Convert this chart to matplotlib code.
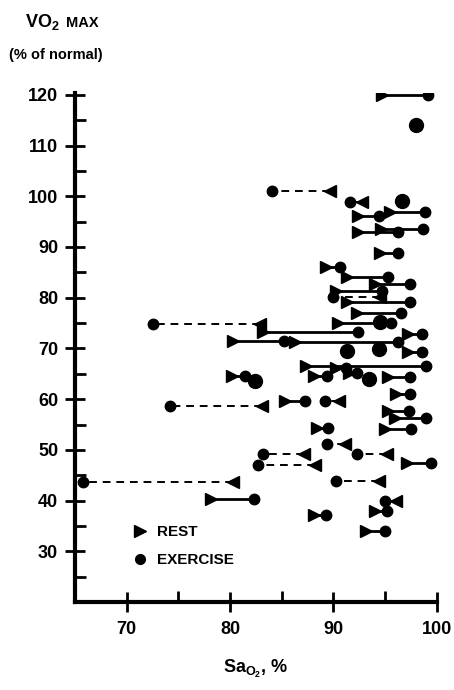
import numpy as np
import matplotlib
matplotlib.use("Agg")
import matplotlib.pyplot as plt
from matplotlib.lines import Line2D
from matplotlib.ticker import MultipleLocator

# one entry per subject: SaO2 at rest, SaO2 at exercise, VO2 max (% of normal)
rest_sao2 = [94.7, 89.7, 92.8, 95.5, 92.4, 92.4, 94.6, 94.5, 89.3, 91.3, 94.0, 90.3,
             94.5, 91.3, 92.3, 90.4, 82.9, 83.2, 97.2, 80.3, 86.3, 97.2, 87.4, 90.3,
             91.5, 88.1, 95.3, 80.2, 96.1, 85.3, 90.5, 83.1, 95.3, 96.0, 95.0, 88.4,
             91.1, 87.2, 95.2, 88.2, 97.1, 80.3, 94.4, 78.2, 96.1, 94.0, 88.1, 93.2]
exercise_sao2 = [99.2, 84.1, 91.6, 98.9, 94.4, 96.3, 98.7, 96.3, 90.6, 95.3, 97.4, 94.7,
                 90.0, 97.4, 96.5, 95.6, 72.6, 92.4, 98.6, 85.2, 96.3, 98.6, 99.0, 91.2,
                 92.3, 89.4, 97.4, 81.5, 97.4, 87.3, 89.2, 74.2, 97.3, 99.0, 97.5, 89.5,
                 89.4, 83.2, 92.3, 82.7, 99.4, 65.8, 90.3, 82.3, 95.0, 95.2, 89.3, 95.0]
vo2_max = [120.0, 101.0, 98.8, 96.9, 96.2, 93.0, 93.6, 88.8, 86.0, 84.0, 82.7, 81.3,
           80.1, 79.1, 76.9, 75.1, 74.8, 73.2, 72.9, 71.5, 71.2, 69.2, 66.6, 66.1,
           65.2, 64.6, 64.3, 64.6, 61.0, 59.6, 59.6, 58.7, 57.6, 56.2, 54.1, 54.4,
           51.1, 49.2, 49.2, 47.1, 47.5, 43.6, 43.8, 40.3, 39.9, 37.9, 37.1, 34.0]

# overlapping exercise points (drawn as larger dots)
overlap_sao2 = [98.0, 96.6, 94.4, 91.3, 93.4, 82.4, 94.5]
overlap_vo2 = [114.0, 99.0, 69.9, 69.5, 63.9, 63.6, 75.3]

x_ticks = [70, 80, 90, 100]
y_ticks = [30, 40, 50, 60, 70, 80, 90, 100, 110, 120]

plt.rcParams['font.family'] = ['Liberation Sans Narrow', 'Liberation Sans', 'DejaVu Sans']
plt.rcParams['font.weight'] = 'bold'
plt.rcParams['axes.labelweight'] = 'bold'
plt.rcParams['mathtext.fontset'] = 'custom'
plt.rcParams['mathtext.rm'] = 'Liberation Sans:bold'
plt.rcParams['mathtext.it'] = 'Liberation Sans:bold'
plt.rcParams['mathtext.bf'] = 'Liberation Sans:bold'

fig = plt.figure(figsize=(4.54, 6.90), dpi=100)
ax = fig.add_axes([0.165, 0.1275, 0.797, 0.738])

for r, e, v in zip(rest_sao2, exercise_sao2, vo2_max):
    # solid line when saturation rises on exercise, dashed when it falls
    style = '-' if e >= r else (0, (4, 3))
    lw = 2.0 if e >= r else 1.4
    ax.plot([r, e], [v, v], color='black', linestyle=style, linewidth=lw, zorder=2)
    ax.plot(r, v, marker='>' if e >= r else '<', color='black', markersize=8.5,
            linestyle='none', zorder=3)
    ax.plot(e, v, marker='o', color='black', markersize=7.5, linestyle='none', zorder=3)

ax.plot(overlap_sao2, overlap_vo2, 'o', color='black', markersize=10, zorder=3)

ax.set_xlim(65, 100)
ax.set_ylim(20, 120.4)
ax.set_xticks(x_ticks)
ax.set_yticks(y_ticks)
ax.xaxis.set_minor_locator(MultipleLocator(5))
ax.yaxis.set_minor_locator(MultipleLocator(5))
ax.tick_params(which='major', direction='inout', length=14, width=2,
               labelsize=13, pad=5)
ax.tick_params(which='minor', direction='in', length=8, width=2)
ax.tick_params(axis='x', which='major', pad=7)

for s in ['top', 'right']:
    ax.spines[s].set_visible(False)
for s in ['left', 'bottom']:
    ax.spines[s].set_linewidth(3)

handles = [Line2D([], [], marker='>', color='black', linestyle='none', markersize=8),
           Line2D([], [], marker='o', color='black', linestyle='none', markersize=7)]
ax.legend(handles, ['REST', 'EXERCISE'], loc='center left',
          bbox_to_anchor=(0.12, 0.11), frameon=False, fontsize=11,
          handletextpad=0.6, labelspacing=0.9, handlelength=1.0)

fig.text(0.055, 0.968, r'VO$_2$', fontsize=13, ha='left', va='center')
fig.text(0.145, 0.966, 'MAX', fontsize=10.5, ha='left', va='center')
fig.text(0.02, 0.92, '(% of normal)', fontsize=10.5, ha='left', va='center')
ax.set_xlabel(r'Sa$_{O_2}$, %', fontsize=13, labelpad=14)

fig.savefig('out.png', dpi=100)
